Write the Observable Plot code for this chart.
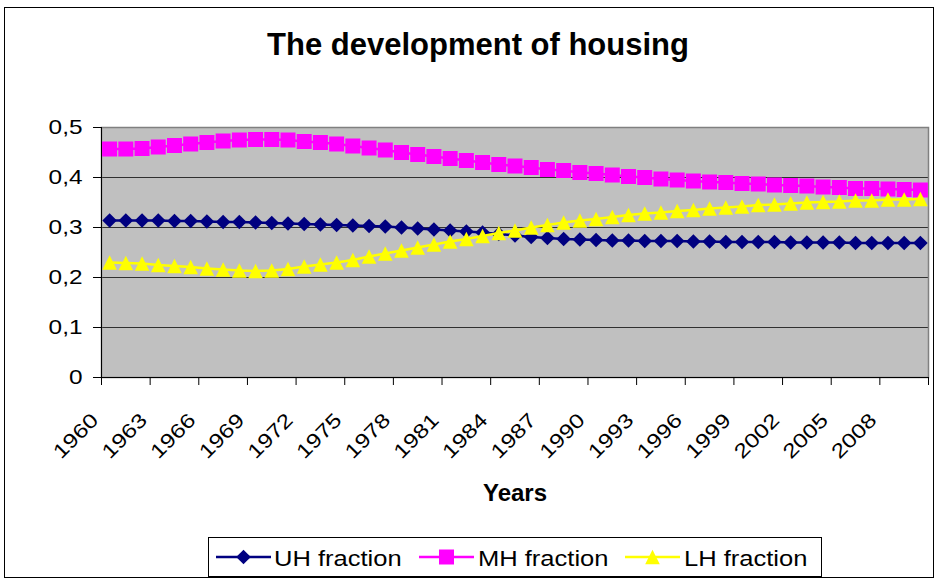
<!DOCTYPE html>
<html><head><meta charset="utf-8">
<script src="https://cdn.jsdelivr.net/npm/d3@7"></script>
<script src="https://cdn.jsdelivr.net/npm/@observablehq/plot@0.6"></script>
<style>
html,body{margin:0;padding:0;background:#fff;}
#chart{position:relative;width:938px;height:583px;overflow:hidden;font-family:"Liberation Sans",Arial,sans-serif;color:#000;}
#border{position:absolute;left:4px;top:7px;width:930px;height:571px;border:1px solid #000;box-sizing:border-box;}
#title{position:absolute;left:0;width:956px;top:29px;text-align:center;font-weight:bold;font-size:31px;line-height:31px;white-space:nowrap;}
#plot{position:absolute;left:0;top:85px;}
#legend{position:absolute;left:208px;top:537px;width:614px;height:40px;border:1px solid #000;box-sizing:border-box;background:#fff;}
.entry{position:absolute;top:0;height:38px;}
.entry svg{position:absolute;left:0;top:9px;overflow:visible;}
.entry span{position:absolute;left:58.5px;top:10px;font-size:22px;line-height:22px;white-space:nowrap;transform:scaleX(1.16);transform-origin:0 0;}
</style></head>
<body>
<div id="chart">
  <div id="border"></div>
  <div id="title"></div>
  <div id="plot"></div>
  <div id="legend"></div>
</div>
<script>
const titleText = "The development of housing";
const xLabel = "Years";
const years = [1960,1961,1962,1963,1964,1965,1966,1967,1968,1969,
  1970,1971,1972,1973,1974,1975,1976,1977,1978,1979,
  1980,1981,1982,1983,1984,1985,1986,1987,1988,1989,
  1990,1991,1992,1993,1994,1995,1996,1997,1998,1999,
  2000,2001,2002,2003,2004,2005,2006,2007,2008,2009,2010];
const uh = [0.314,0.314,0.314,0.314,0.313,0.313,0.312,0.311,0.311,0.310,
  0.309,0.308,0.307,0.306,0.305,0.304,0.303,0.302,0.300,0.298,
  0.296,0.294,0.292,0.290,0.287,0.284,0.281,0.279,0.277,0.276,
  0.275,0.274,0.274,0.273,0.273,0.273,0.272,0.272,0.271,0.271,
  0.271,0.271,0.270,0.270,0.270,0.270,0.269,0.269,0.269,0.269,0.269];
const mh = [0.457,0.457,0.458,0.461,0.464,0.467,0.470,0.473,0.475,0.476,
  0.476,0.475,0.472,0.470,0.467,0.463,0.459,0.455,0.450,0.446,
  0.442,0.438,0.434,0.430,0.426,0.423,0.420,0.416,0.414,0.410,
  0.408,0.405,0.402,0.400,0.397,0.395,0.393,0.391,0.390,0.388,
  0.387,0.385,0.384,0.383,0.381,0.380,0.378,0.378,0.377,0.376,0.375];
const lh = [0.230,0.229,0.228,0.225,0.223,0.221,0.218,0.216,0.214,0.213,
  0.214,0.217,0.222,0.226,0.230,0.235,0.242,0.248,0.254,0.260,
  0.266,0.272,0.277,0.283,0.289,0.294,0.300,0.305,0.310,0.314,
  0.317,0.321,0.325,0.328,0.330,0.333,0.335,0.338,0.340,0.342,
  0.345,0.346,0.348,0.350,0.351,0.352,0.354,0.354,0.356,0.356,0.357];
const seriesNames = ["UH fraction","MH fraction","LH fraction"];
const labelYears = [1960,1963,1966,1969,1972,1975,1978,1981,1984,1987,1990,1993,1996,1999,2002,2005,2008];
const yTicks = [0,0.1,0.2,0.3,0.4,0.5];

// category bands: boundaries between years
const xDomain = [years[0]-0.5, years[years.length-1]+0.5];
const xBoundaries = labelYears.map(d => d-0.5).concat([xDomain[1]]);

const rOf = size => Math.sqrt(size/Math.PI);
const diamondSym = {draw(ctx,size){const r=rOf(size);ctx.moveTo(0,-r);ctx.lineTo(r,0);ctx.lineTo(0,r);ctx.lineTo(-r,0);ctx.closePath();}};
const squareSym = {draw(ctx,size){const r=rOf(size);ctx.moveTo(-r,-r);ctx.lineTo(r,-r);ctx.lineTo(r,r);ctx.lineTo(-r,r);ctx.closePath();}};
const triangleSym = {draw(ctx,size){const r=rOf(size);ctx.moveTo(0,-r);ctx.lineTo(r,r);ctx.lineTo(-r,r);ctx.closePath();}};

const series = [
  {name: seriesNames[0], values: uh, color: "#000080", symbol: diamondSym, r: 7.3},
  {name: seriesNames[1], values: mh, color: "#FF00FF", symbol: squareSym, r: 7.5},
  {name: seriesNames[2], values: lh, color: "#FFFF00", symbol: triangleSym, r: 7.3}
];

const fmt = d => String(d).replace(".", ",");

const seriesMarks = series.flatMap(s => [
  Plot.line(years, {x: d => d, y: (d,i) => s.values[i], stroke: s.color, strokeWidth: 2.5}),
  Plot.dot(years, {x: d => d, y: (d,i) => s.values[i], symbol: s.symbol, r: s.r, fill: s.color, stroke: "none"})
]);

const svg = Plot.plot({
  width: 938, height: 425,
  marginLeft: 101, marginRight: 10, marginTop: 42, marginBottom: 133,
  x: {domain: xDomain, label: null},
  y: {domain: [0, 0.5], label: null},
  style: {fontFamily: '"Liberation Sans", Arial, sans-serif', fontSize: "20px", background: "transparent", overflow: "visible", color: "#000"},
  marks: [
    Plot.frame({fill: "#C0C0C0", stroke: null}),
    Plot.gridY(yTicks.filter(d => d > 0 && d < 0.5), {stroke: "#303030", strokeOpacity: 1, strokeWidth: 1}),
    Plot.frame({stroke: "#808080", strokeWidth: 1.5}),
    Plot.ruleX([xDomain[0]], {stroke: "#000", strokeWidth: 1}),
    Plot.ruleY([0], {stroke: "#000", strokeWidth: 1}),
    Plot.axisY({ticks: yTicks, tickSize: 8, tickPadding: 11, tickFormat: fmt, fontSize: 20, stroke: "#000", label: null}),
    Plot.axisX({ticks: xBoundaries, tickSize: 8, tickFormat: () => "", stroke: "#000", label: null}),
    Plot.text(labelYears, {x: d => d, text: d => String(d), frameAnchor: "bottom", rotate: -45, textAnchor: "end", lineAnchor: "bottom", dx: -10, dy: 44, fontSize: 20, fill: "#000"}),
    Plot.text([xLabel], {text: d => d, frameAnchor: "bottom", lineAnchor: "bottom", dy: 123, fontSize: 24, fontWeight: "bold", fill: "#000"}),
    ...seriesMarks
  ]
});
document.getElementById("plot").appendChild(svg);
document.getElementById("title").textContent = titleText;

// Excel-style horizontally widened regular text: scale glyphs about each text's anchor
const k = 1.22;
svg.querySelectorAll("text").forEach(t => {
  if (t.closest('[font-weight="bold"]')) return;
  if (!t.textContent) return;
  const tr = t.getAttribute("transform");
  if (tr) t.setAttribute("transform", tr + ` scale(${k},1)`);
  else {
    const x = +t.getAttribute("x") || 0;
    t.setAttribute("transform", `translate(${x},0) scale(${k},1) translate(${-x},0)`);
  }
});

// legend
const legend = document.getElementById("legend");
const entryLefts = [6.5, 210, 416];
series.forEach((s, i) => {
  const e = document.createElement("div");
  e.className = "entry";
  e.style.left = entryLefts[i] + "px";
  const path = d3.symbol(s.symbol, s.r * s.r * Math.PI)();
  e.innerHTML = `<svg width="55" height="20"><line x1="0" x2="55" y1="10" y2="10" stroke="${s.color}" stroke-width="2.5"/><path transform="translate(27.5,10)" d="${path}" fill="${s.color}"/></svg>`;
  const sp = document.createElement("span");
  sp.textContent = s.name;
  e.appendChild(sp);
  legend.appendChild(e);
});
</script>
</body></html>
